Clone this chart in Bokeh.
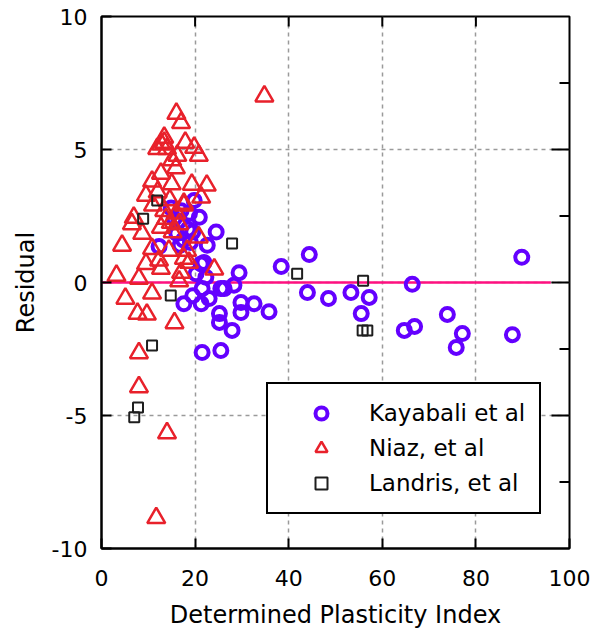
import math
from bokeh.plotting import figure
from bokeh.models import (SingleIntervalTicker, Legend, LegendItem,
                          Range1d, PrintfTickFormatter)
from bokeh.embed import file_html
from bokeh.resources import INLINE

# ---------------- data ----------------
kay_x = [89.8, 87.8, 77.1, 75.8, 73.9, 66.4, 66.9, 64.7, 57.2, 53.3, 55.5, 48.5,
         44.0, 44.4, 38.4, 35.8, 32.6, 29.8, 29.8, 28.3, 27.9, 25.2, 25.2, 25.5,
         21.5, 21.3, 17.6, 21.5, 25.5, 29.4, 20.2, 22.3, 21.3, 22.6, 24.5, 20.9,
         19.8, 16.1, 17.5, 18.5, 14.9, 12.3, 19.0, 16.5, 23.0, 19.5, 26.2, 21.9,
         15.5, 17.0, 18.8, 16.8, 19.5]
kay_y = [0.95, -1.96, -1.92, -2.44, -1.2, -0.07, -1.65, -1.8, -0.56, -0.38, -1.17, -0.6,
         -0.38, 1.05, 0.6, -1.1, -0.8, -0.75, -1.13, -0.1, -1.8, -1.17, -1.5, -0.23,
         -0.23, -0.8, -0.8, -2.63, -2.56, 0.37, 0.33, 0.2, 0.7, 1.4, 1.9, 2.45,
         3.08, 1.84, 1.6, 2.0, 2.8, 1.35, 1.5, 2.3, -0.6, -0.5, -0.23, 0.75,
         2.4, 2.7, 2.6, 1.4, 1.9]

niaz_x = [34.8, 11.7, 14.0, 8.0, 8.0, 15.6, 9.7, 7.7, 5.1, 10.8, 3.2, 8.0, 4.4,
          16.0, 17.0, 13.4, 13.4, 12.8, 11.9, 14.0, 17.9, 19.8, 20.8, 16.2, 15.1,
          15.9, 12.7, 10.8, 19.3, 22.5, 15.0, 9.5, 17.6, 13.4, 6.9, 6.5, 8.7,
          13.8, 14.8, 12.7, 16.6, 20.8, 10.8, 14.4, 18.3, 9.5, 12.3, 12.7, 17.0,
          24.1, 18.7, 21.3, 17.6, 17.6, 15.2, 16.0, 14.6, 12.0, 11.0, 16.6]
niaz_y = [7.0, -8.85, -5.66, -3.93, -2.65, -1.52, -1.2, -1.17, -0.6, -0.41, 0.26, 0.15, 1.39,
          6.35, 6.0, 5.45, 5.26, 5.2, 5.03, 5.03, 5.26, 5.07, 4.77, 4.77, 4.6,
          4.3, 4.1, 3.8, 3.68, 3.65, 3.7, 3.27, 2.9, 2.7, 2.44, 2.2, 1.84,
          2.4, 2.25, 2.07, 2.2, 1.7, 1.27, 1.2, 1.2, 0.7, 0.83, 0.52, 0.37,
          0.5, 0.75, 3.2, 2.97, 0.9, 1.9, 2.6, 3.1, 3.4, 2.9, 0.05]

land_x = [11.9, 8.9, 27.9, 41.8, 55.9, 55.8, 56.8, 14.8, 10.8, 7.8, 7.0]
land_y = [3.08, 2.4, 1.47, 0.33, 0.07, -1.8, -1.8, -0.49, -2.37, -4.7, -5.07]

zero_x = [0, 96]
zero_y = [0, 0]

x_min, x_max = 0, 100
y_min, y_max = -10, 10
x_tick_interval = 20
y_tick_interval = 5
top_tick_vals = [20, 40, 60, 80]
right_major_vals = [-5, 0, 5]
right_minor_vals = [-7.5, -2.5, 2.5, 7.5]

FONT = "DejaVu Sans"

p = figure(width=590, height=634, output_backend="svg", toolbar_location=None,
           x_range=Range1d(x_min, x_max), y_range=Range1d(y_min, y_max),
           min_border_left=101, min_border_right=21, min_border_top=16,
           min_border_bottom=86)
p.background_fill_color = "white"
p.outline_line_color = "black"
p.outline_line_width = 2

# grid
for g in (p.xgrid, p.ygrid):
    g.grid_line_color = "#9a9a9a"
    g.grid_line_dash = "4 4"
    g.grid_line_width = 1.5
p.xgrid.ticker = SingleIntervalTicker(interval=x_tick_interval)
p.ygrid.ticker = SingleIntervalTicker(interval=y_tick_interval)

# axes
xa = p.xaxis[0]
ya = p.yaxis[0]
xa.ticker = SingleIntervalTicker(interval=x_tick_interval, num_minor_ticks=0)
ya.ticker = SingleIntervalTicker(interval=y_tick_interval, num_minor_ticks=0)
xa.formatter = PrintfTickFormatter(format="%d")
ya.formatter = PrintfTickFormatter(format="%d")
for a in (xa, ya):
    a.axis_line_width = 2
    a.axis_line_color = "black"
    a.major_tick_in = 10
    a.major_tick_out = 0
    a.major_tick_line_width = 2
    a.minor_tick_line_color = None
    a.major_label_text_font = FONT
    a.major_label_text_font_size = "22px"
    a.major_label_text_color = "black"
    a.axis_label_text_font = FONT
    a.axis_label_text_font_size = "24px"
    a.axis_label_text_font_style = "normal"
    a.axis_label_text_color = "black"
xa.axis_label = "Determined Plasticity Index"
ya.axis_label = "Residual"
xa.major_label_standoff = 21
xa.axis_label_standoff = 12
ya.major_label_standoff = 14
ya.axis_label_standoff = 9

# mirror ticks on top and right (inward), drawn as dash markers clipped by the frame
p.scatter(top_tick_vals, [y_max] * len(top_tick_vals), marker="dash", size=20,
          angle=math.pi / 2, line_color="black", line_width=2)
p.scatter([x_max] * len(right_major_vals), right_major_vals, marker="dash", size=36,
          line_color="black", line_width=2)
p.scatter([x_max] * len(right_minor_vals), right_minor_vals, marker="dash", size=20,
          line_color="black", line_width=2)

# zero line
p.line(zero_x, zero_y, line_color="#ff1080", line_width=2.5)

r_k = p.scatter(kay_x, kay_y, marker="circle", size=13, fill_color=None,
                line_color="#6400ff", line_width=4)
r_n = p.scatter(niaz_x, niaz_y, marker="triangle", size=18, fill_color=None,
                line_color="#e8212b", line_width=2.5)
r_l = p.scatter(land_x, land_y, marker="square", size=10, fill_color=None,
                line_color="#1e1e1e", line_width=2)

legend = Legend(items=[LegendItem(label="Kayabali et al", renderers=[r_k]),
                       LegendItem(label="Niaz, et al", renderers=[r_n]),
                       LegendItem(label="Landris, et al", renderers=[r_l])],
                location=(165, 34))
legend.border_line_color = "black"
legend.border_line_alpha = 1.0
legend.border_line_width = 2.5
legend.background_fill_color = "white"
legend.background_fill_alpha = 1
legend.padding = 14
legend.margin = 0
legend.glyph_width = 78
legend.glyph_height = 30
legend.label_height = 30
legend.spacing = 5
legend.label_standoff = 9
legend.label_text_font = FONT
legend.label_text_font_size = "23px"
legend.label_text_color = "black"
p.add_layout(legend, "center")

open("out.html", "w").write(file_html(p, INLINE))
